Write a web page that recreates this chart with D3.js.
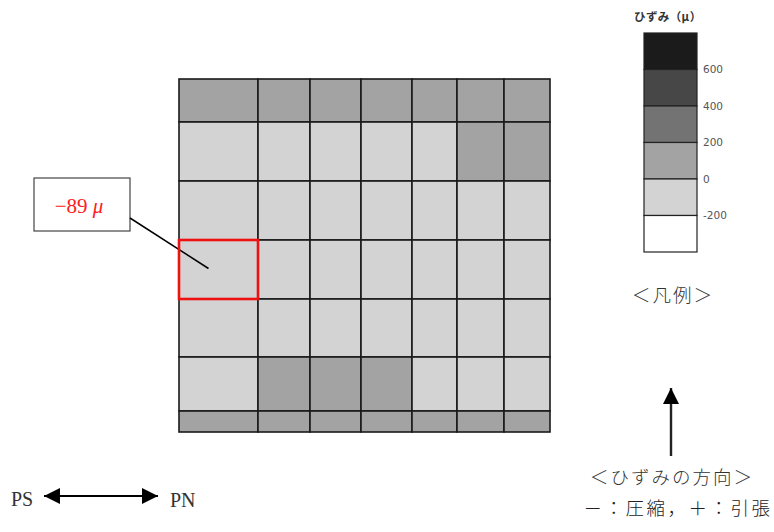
<!DOCTYPE html>
<html>
<head>
<meta charset="utf-8">
<script src="https://cdn.jsdelivr.net/npm/d3@7"></script>
<style>
  body { margin: 0; background: #fff; }
  svg { display: block; }
</style>
</head>
<body>
<div id="chart"></div>
<script>
// strain map (micro strain), rows top -> bottom, columns PS -> PN
var colEdges = [0, 79, 131, 182, 233, 278, 325, 371];
var rowEdges = [0, 43, 102, 161, 220, 278, 332, 353];
var strain = [
    [45, 60, 52, 48, 55, 62, 70],
    [-40, -35, -28, -30, -22, 15, 25],
    [-75, -60, -55, -50, -45, -38, -30],
    [-89, -70, -65, -60, -52, -45, -40],
    [-80, -66, -58, -54, -48, -42, -35],
    [-30, 12, 18, 10, -20, -25, -28],
    [40, 55, 60, 58, 50, 47, 42]
];
var breaks = [-200, 0, 200, 400, 600];
var shades = ["#ffffff", "#d3d3d3", "#a3a3a3", "#737373", "#474747", "#1b1b1b"];
var legendBins = [[600, 800], [400, 600], [200, 400], [0, 200], [-200, 0], [-400, -200]];
var marked = { row: 3, col: 0, value: "−89", unit: "μ" };

var width = 774, height = 532;
var svg = d3.select("#chart").append("svg")
    .attr("width", width)
    .attr("height", height);

var x = d3.scaleLinear().domain([0, 371]).range([179, 550]);
var y = d3.scaleLinear().domain([0, 353]).range([79, 432]);
var color = d3.scaleThreshold().domain(breaks).range(shades);

// cells
var cells = [];
strain.forEach(function(row, i) {
    row.forEach(function(v, j) {
        cells.push({ row: i, col: j, value: v });
    });
});

svg.append("g")
    .selectAll("rect")
    .data(cells)
    .enter().append("rect")
    .attr("x", d => x(colEdges[d.col]))
    .attr("y", d => y(rowEdges[d.row]))
    .attr("width", d => x(colEdges[d.col + 1]) - x(colEdges[d.col]))
    .attr("height", d => y(rowEdges[d.row + 1]) - y(rowEdges[d.row]))
    .attr("fill", d => color(d.value))
    .attr("stroke", "#1a1a1a")
    .attr("stroke-width", 1.6);

// callout
var cx0 = x(colEdges[marked.col]), cx1 = x(colEdges[marked.col + 1]);
var cy0 = y(rowEdges[marked.row]), cy1 = y(rowEdges[marked.row + 1]);

svg.append("rect")
    .attr("x", 34).attr("y", 178)
    .attr("width", 96).attr("height", 53)
    .attr("fill", "#fff")
    .attr("stroke", "#444")
    .attr("stroke-width", 1.2);

var lbl = svg.append("text")
    .attr("x", 79).attr("y", 213)
    .attr("text-anchor", "middle")
    .style("font", "21px 'Liberation Serif', serif")
    .attr("fill", "#ff2020");
lbl.append("tspan").text(marked.value + " ");
lbl.append("tspan").style("font-style", "italic").text(marked.unit);

svg.append("line")
    .attr("x1", 130).attr("y1", 218)
    .attr("x2", (cx0 + cx1) / 2 - 10).attr("y2", (cy0 + cy1) / 2 - 1)
    .attr("stroke", "#000")
    .attr("stroke-width", 1.5);

svg.append("rect")
    .attr("x", cx0).attr("y", cy0)
    .attr("width", cx1 - cx0).attr("height", cy1 - cy0)
    .attr("fill", "none")
    .attr("stroke", "#ee1111")
    .attr("stroke-width", 2.6);

// legend
var ly = d3.scaleLinear().domain([800, -400]).range([33, 252]);

svg.append("text")
    .attr("x", 634).attr("y", 21)
    .style("font", "bold 11.5px 'Noto Sans CJK JP', sans-serif")
    .style("letter-spacing", "0.4px")
    .attr("fill", "#333")
    .text("ひずみ（μ）");

svg.append("g")
    .selectAll("rect")
    .data(legendBins)
    .enter().append("rect")
    .attr("x", 644)
    .attr("y", d => ly(d[1]))
    .attr("width", 53)
    .attr("height", d => ly(d[0]) - ly(d[1]))
    .attr("fill", d => color((d[0] + d[1]) / 2))
    .attr("stroke", "#222")
    .attr("stroke-width", 1.2);

var legendAxis = d3.axisRight(ly)
    .tickValues(breaks)
    .tickSize(0)
    .tickPadding(6)
    .tickFormat(d => d < 0 ? "-" + Math.abs(d) : d);

svg.append("g")
    .attr("transform", "translate(697,0)")
    .call(legendAxis)
    .call(g => g.select(".domain").remove())
    .selectAll("text")
    .style("font", "10.5px Verdana, 'DejaVu Sans', sans-serif")
    .attr("fill", "#555");

var jpFont = "18.5px 'Noto Sans CJK JP', sans-serif";

svg.append("text")
    .attr("x", 673).attr("y", 302)
    .attr("text-anchor", "middle")
    .style("font", jpFont)
    .style("font-weight", 300)
    .style("letter-spacing", "2px")
    .attr("fill", "#333")
    .text("＜凡例＞");

// arrows
var defs = svg.append("defs");
defs.append("marker")
    .attr("id", "head")
    .attr("viewBox", "0 0 10 10")
    .attr("refX", 10).attr("refY", 5)
    .attr("markerWidth", 16).attr("markerHeight", 16)
    .attr("markerUnits", "userSpaceOnUse")
    .attr("orient", "auto-start-reverse")
    .append("path")
    .attr("d", "M0,0L10,5L0,10Z")
    .attr("fill", "#000");

svg.append("line")
    .attr("x1", 44).attr("y1", 496)
    .attr("x2", 158).attr("y2", 496)
    .attr("stroke", "#000")
    .attr("stroke-width", 2.2)
    .attr("marker-start", "url(#head)")
    .attr("marker-end", "url(#head)");

svg.append("text")
    .attr("x", 11).attr("y", 506)
    .style("font", "20px 'Liberation Serif', serif")
    .attr("fill", "#333")
    .text("PS");

svg.append("text")
    .attr("x", 170).attr("y", 507)
    .style("font", "20px 'Liberation Serif', serif")
    .attr("fill", "#333")
    .text("PN");

svg.append("line")
    .attr("x1", 671).attr("y1", 456)
    .attr("x2", 671).attr("y2", 388)
    .attr("stroke", "#222")
    .attr("stroke-width", 2.4)
    .attr("marker-end", "url(#head)");

svg.append("text")
    .attr("x", 672).attr("y", 484)
    .attr("text-anchor", "middle")
    .style("font", jpFont)
    .style("font-weight", 300)
    .style("letter-spacing", "2px")
    .attr("fill", "#333")
    .text("＜ひずみの方向＞");

svg.append("text")
    .attr("x", 678).attr("y", 515)
    .attr("text-anchor", "middle")
    .style("font", jpFont)
    .style("font-weight", 300)
    .style("letter-spacing", "2.5px")
    .attr("fill", "#222")
    .text("－：圧縮，＋：引張");
</script>
</body>
</html>
